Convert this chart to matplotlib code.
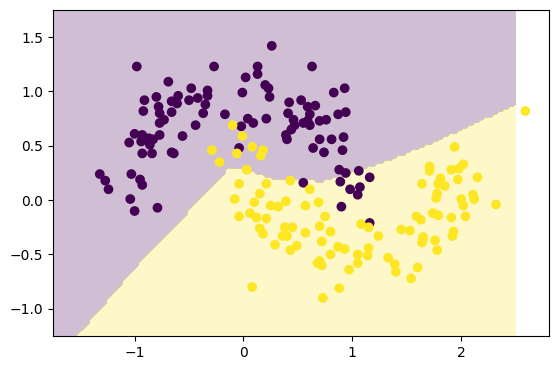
import numpy as np
import matplotlib
matplotlib.use("Agg")
import matplotlib.pyplot as plt

# class 0 (upper moon)
x0 = [-0.98, -0.27, -0.69, -0.91, -0.80, -0.92, -0.78, -0.77, -0.66, -0.60, -0.61, -0.48, -0.50, -0.42,
      -0.33, -0.33, -0.35, -0.37, -0.66, -0.73, -0.77, -0.44,
      -1.00, -0.93, -1.05, -0.94, -0.87, -0.83, -0.77, -0.86, -0.56, -0.93, -0.84, -0.66, -0.64,
      -1.32, -1.27, -1.24, -1.03, -0.95, -0.93, -1.04, -1.00, -0.79,
      0.26, 0.13, 0.13, 0.02, 0.63, 0.20, 0.23, -0.01, 0.24, 0.42, 0.53, 0.41, 0.46, 0.59, 0.66, 0.61,
      0.59, 0.83, 0.87, 0.70, 0.76, -0.17, 0.21, 0.04, 0.09, -0.02, 0.47, 0.55, 0.61,
      -0.04, 0.39, 0.40, 0.44, 0.64, 0.70, 0.74, 0.81, 0.91, 0.55, 0.88, 0.89,
      0.93, 0.94, 0.92, 0.94, 1.06, 1.16, 0.98, 1.07, 1.05, 0.90, 1.16]
y0 = [1.23, 1.23, 1.09, 0.92, 0.95, 0.82, 0.86, 0.80, 0.91, 0.96, 0.89, 1.03, 0.92, 0.94,
      1.01, 0.96, 0.88, 0.80, 0.81, 0.74, 0.71, 0.69,
      0.61, 0.60, 0.53, 0.54, 0.57, 0.56, 0.60, 0.51, 0.59, 0.43, 0.43, 0.44, 0.43,
      0.24, 0.18, 0.10, 0.24, 0.19, 0.14, 0.01, -0.10, -0.07,
      1.42, 1.23, 1.16, 1.13, 1.23, 1.06, 1.03, 0.99, 0.95, 0.90, 0.92, 0.80, 0.74, 0.86, 0.87, 0.79,
      0.73, 0.99, 0.79, 0.73, 0.74, 0.79, 0.75, 0.75, 0.71, 0.68, 0.69, 0.71, 0.69,
      0.48, 0.60, 0.56, 0.65, 0.48, 0.56, 0.44, 0.56, 0.46, 0.16, 0.28, 0.17,
      1.03, 0.81, 0.58, 0.25, 0.27, 0.21, 0.10, 0.12, 0.05, -0.06, -0.21]

# class 1 (lower moon)
x1 = [-0.29, -0.22, -0.10, -0.01, -0.06, 0.08, 0.18, 0.16, 0.03, 0.43, 0.61, -0.04, 0.21, 0.15,
      -0.08, 0.10, 0.25, 0.32, 0.39, 0.57, 0.69, 0.06, -0.04, 0.12, 0.21, 0.75,
      1.64, 1.08, 1.15, 1.24, 0.80, 0.87, 0.93, 0.80, 1.05, 1.15, 1.14, 1.05, 0.97, 0.88, 1.33,
      1.39, 1.40, 1.54, 1.60, 1.45, 1.53, 1.59, 1.63, 1.65, 1.64,
      0.15, 0.18, 0.29, 0.38, 0.45, 0.36, 0.40, 0.43, 0.49, 0.57, 0.70, 0.72, 0.70, 0.72, 0.68,
      0.08, 0.73,
      2.59, 1.94, 1.71, 1.71, 2.02, 1.98, 1.91, 2.15, 1.97, 1.81, 1.79, 1.85, 1.78, 2.11,
      1.77, 2.00, 2.02, 2.12, 2.32, 1.74, 1.79, 1.91, 2.04, 1.93, 1.92, 1.65, 1.76, 1.78]
y1 = [0.46, 0.35, 0.69, 0.59, 0.43, 0.49, 0.46, 0.41, 0.28, 0.18, 0.10, 0.15, 0.15, 0.06,
      0.01, -0.02, -0.05, -0.06, -0.01, -0.05, -0.02, -0.12, -0.15, -0.16, -0.17, -0.15,
      0.15, -0.22, -0.25, -0.33, -0.29, -0.43, -0.45, -0.50, -0.50, -0.44, -0.51, -0.58, -0.64, -0.81, -0.53,
      -0.59, -0.66, -0.72, -0.62, -0.27, -0.28, -0.15, -0.18, -0.34, -0.39,
      -0.26, -0.31, -0.41, -0.25, -0.25, -0.33, -0.33, -0.46, -0.42, -0.30, -0.24, -0.38, -0.56, -0.60, -0.58,
      -0.80, -0.90,
      0.82, 0.49, 0.31, 0.27, 0.33, 0.29, 0.28, 0.21, 0.19, 0.20, 0.15, 0.13, 0.06, 0.05,
      0.02, 0.01, -0.05, 0.01, -0.04, -0.12, -0.14, -0.16, -0.15, -0.29, -0.33, -0.36, -0.37, -0.46]

# decision boundary traced from the shaded regions
bx = [-1.80, -1.524, -0.928, -0.575, -0.132, 0.051, 0.235, 0.388, 0.724, 1.09, 1.40, 1.70, 2.50, 2.60]
by = [-1.31, -1.245, -0.547, -0.180, 0.295, 0.279, 0.203, 0.187, 0.172, 0.28, 0.39, 0.51, 0.876, 0.92]

h = 0.025
xx, yy = np.meshgrid(np.arange(-1.75, 2.5 + h / 2, h), np.arange(-1.25, 1.75 + h / 2, h))
Z = (yy < np.interp(xx, bx, by)).astype(float)

X = np.array(x0 + x1)
Y = np.array(y0 + y1)
labels = np.array([0] * len(x0) + [1] * len(x1))

fig = plt.figure(figsize=(5.59, 3.7), dpi=100)
fig.subplots_adjust(left=0.0948, right=0.982, bottom=0.092, top=0.973)
ax = fig.add_subplot(111)
ax.contourf(xx, yy, Z, levels=[-0.5, 0.5, 1.5], colors=["#440154", "#fde725"], alpha=0.25)
ax.scatter(X, Y, c=labels, cmap="viridis")
fig.savefig("out.png", dpi=100)
